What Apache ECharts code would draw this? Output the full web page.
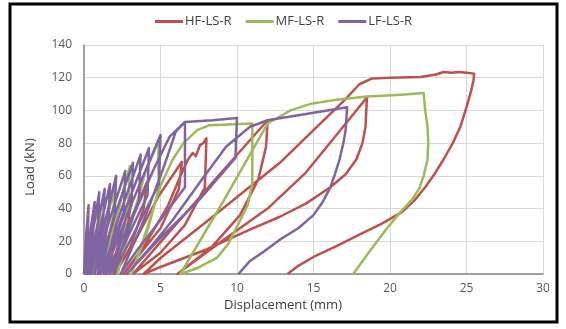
<!DOCTYPE html>
<html>
<head>
<meta charset="utf-8">
<script src="https://cdn.jsdelivr.net/npm/echarts@6/dist/echarts.min.js"></script>
<style>
html,body{margin:0;padding:0;background:#fff;}
#chart{width:566px;height:329px;}
</style>
</head>
<body>
<div id="chart"></div>
<script>
// Tick labels
const xTicks = [0, 5, 10, 15, 20, 25, 30];
const yTicks = [0, 20, 40, 60, 80, 100, 120, 140];
const seriesNames = ['HF-LS-R', 'MF-LS-R', 'LF-LS-R'];

// HF-LS-R : displacement (mm) / load (kN)
const hfDisp = [0,0.5,1.0,1.5, 1.35,1.0,0.6, 1.2,1.7,2.1, 1.9,1.4,1.0, 1.8,2.5,3.1, 2.9,2.1,1.35,
  2.4,3.3,4.1, 3.9,3.0,2.0, 3.2,4.9,6.4, 6.2,5.0,2.6,
  4.0,5.5,6.4,6.8,7.1,7.3,7.6,7.8,8.0, 7.95,7.9,6.6,5.0,3.2,
  5.0,8.5,12.0, 11.9,11.4,10.2,8.3,6.1,
  9.0,12.0,14.5,16.5,17.8,18.5,
  18.45,18.4,18.2,17.8,17.1,16.1,14.5,12.8,10.8,8.0,5.0,3.9,
  5.0,8.0,10.8,12.8,15.0,17.0,18.0,18.8,20.0,22.0,23.0,23.5,24.0,24.5,25.0,25.5,
  25.45,25.3,25.0,24.6,24.1,23.5,22.9,22.3,21.6,20.8,19.5,18.0,16.5,15.0,14.0,13.3];
const hfLoad = [0,15,25,30, 18,6,0, 12,25,35, 22,6,0, 15,33,47, 32,10,0,
  18,38,56, 40,16,0, 18,48,68.6, 52,28,0,
  18,42,62,70,74,72,79,80,83, 68,53,30,13,0,
  19.5,57,94, 78,58,36,16,0,
  20,40,62,85,100,108,
  100,90,80,70,61,53,43,35,27,15,4.3,0,
  9.8,32,53,68,88,106,116,119.5,120,120.5,122,123.5,123,123.5,123,122.5,
  118,112,102,90,80,70,61,53,45,38,31,24,17,10.4,5,0];

// MF-LS-R
const mfDisp = [0,0.4,0.8,1.1, 1.0,0.6, 1.1,1.6,2.0, 1.9,1.2, 1.8,2.5,3.0, 2.9,2.2,
  3.0,4.0,4.9, 4.85,4.9,4.2,3.1,
  4.2,5.0,5.8,6.5,7.4,8.2,11.0,
  11.0,11.0,10.7,10.0,9.4,8.7,7.5,6.3,
  9.2,12.0,13.5,14.8,16.5,18.5,20.5,22.2,
  22.3,22.45,22.5,22.45,22.2,21.9,21.4,20.7,19.8,18.6,17.6];
const mfLoad = [0,22,35,42, 28,0, 18,38,52, 35,0, 22,48,66, 45,0,
  28,62,82, 70,53,28,0,
  30,54,70,80,88,91,92,
  75,55.6,42,29,18,10,4,0,
  46,92,100,104,106.5,108.5,109.5,110.6,
  100,90,80,70,60,52,45,38,28,13,0];

// LF-LS-R
const lfDisp = [0,0.15,0.3, 0.25,0.1, 0.35,0.7, 0.6,0.2, 0.5,1.0, 0.9,0.35, 0.7,1.35, 1.25,0.5,
  0.9,1.7, 1.6,0.7, 1.2,2.1, 2.0,0.9, 1.5,2.7, 2.6,1.1, 1.8,3.2, 3.1,1.3,
  2.1,3.7, 3.6,1.5, 2.4,4.25, 4.15,1.7, 2.8,5.0, 4.9,1.9,
  3.2,4.6,5.6,6.6, 6.6,6.6,5.0,3.5,2.4,
  4.0,5.2,6.0,6.6,8.4,10.0, 9.95,9.9,7.5,5.0,2.8,
  4.5,5.8,7.8,9.3,10.85,12.0,17.2,
  17.15,17.1,16.95,16.7,16.4,16.1,15.6,15.0,14.0,12.8,11.8,10.85,10.1];
const lfLoad = [0,25,42, 25,0, 22,44, 26,0, 22,50, 30,0, 22,52, 32,0,
  22,55, 33,0, 25,60, 36,0, 28,63, 38,0, 30,68, 42,0,
  30,73, 45,0, 32,77, 48,0, 36,85, 55,0,
  35,65,84,93, 75,53,33,15,0,
  35,65,87,93,94,95.4, 85,71,45,22,0,
  18,33,59,78,90,94,102,
  95,88,80,70,61,53,44,36,28,21,14,8,0];

function zip(xs, ys) { return xs.map((x, i) => [x, ys[i]]); }

const colors = ['#C0504D', '#9BBB59', '#8064A2'];
const font = '"Open Sans", "Liberation Sans", sans-serif';

const chart = echarts.init(document.getElementById('chart'), null, {renderer: 'canvas'});
chart.setOption({
  animation: false,
  backgroundColor: '#fff',
  color: colors,
  grid: {left: 84, right: 23, top: 45, bottom: 55},
  legend: {
    top: 10, left: 150,
    itemWidth: 28, itemHeight: 3, itemGap: 14,
    icon: 'rect',
    textStyle: {fontFamily: font, fontSize: 13, color: '#404040', padding: [0,0,0,-3]},
    data: seriesNames
  },
  xAxis: {
    type: 'value', min: xTicks[0], max: xTicks[xTicks.length - 1], interval: 5,
    axisLine: {lineStyle: {color: '#868686', width: 1.5}},
    axisTick: {show: false},
    axisLabel: {fontFamily: font, fontSize: 12, color: '#595959', margin: 9},
    splitLine: {show: true, lineStyle: {color: '#D9D9D9'}}
  },
  yAxis: {
    type: 'value', min: yTicks[0], max: yTicks[yTicks.length - 1], interval: 20,
    axisLine: {show: true, lineStyle: {color: '#868686', width: 1.5}},
    axisTick: {show: false},
    axisLabel: {fontFamily: font, fontSize: 12, color: '#595959', margin: 12},
    splitLine: {show: true, lineStyle: {color: '#D9D9D9'}}
  },
  graphic: [
    {type: 'rect', shape: {x: 10, y: 4, width: 547, height: 318},
     style: {fill: null, stroke: '#000', lineWidth: 3}, silent: true, z: 100},
    {type: 'text', left: 'center', top: 299, x: 313,
     style: {text: 'Displacement (mm)', font: '13px ' + font, fill: '#404040'}},
    {type: 'text', x: 30, y: 167, rotation: Math.PI / 2,
     style: {text: 'Load (kN)', font: '13px ' + font, fill: '#404040', align: 'center', verticalAlign: 'middle'}}
  ],
  series: [
    {name: seriesNames[0], type: 'line', data: zip(hfDisp, hfLoad), showSymbol: false,
     lineStyle: {width: 2.5, join: 'round'}},
    {name: seriesNames[1], type: 'line', data: zip(mfDisp, mfLoad), showSymbol: false,
     lineStyle: {width: 2.5, join: 'round'}},
    {name: seriesNames[2], type: 'line', data: zip(lfDisp, lfLoad), showSymbol: false,
     lineStyle: {width: 2.5, join: 'round'}}
  ]
});
</script>
</body>
</html>
